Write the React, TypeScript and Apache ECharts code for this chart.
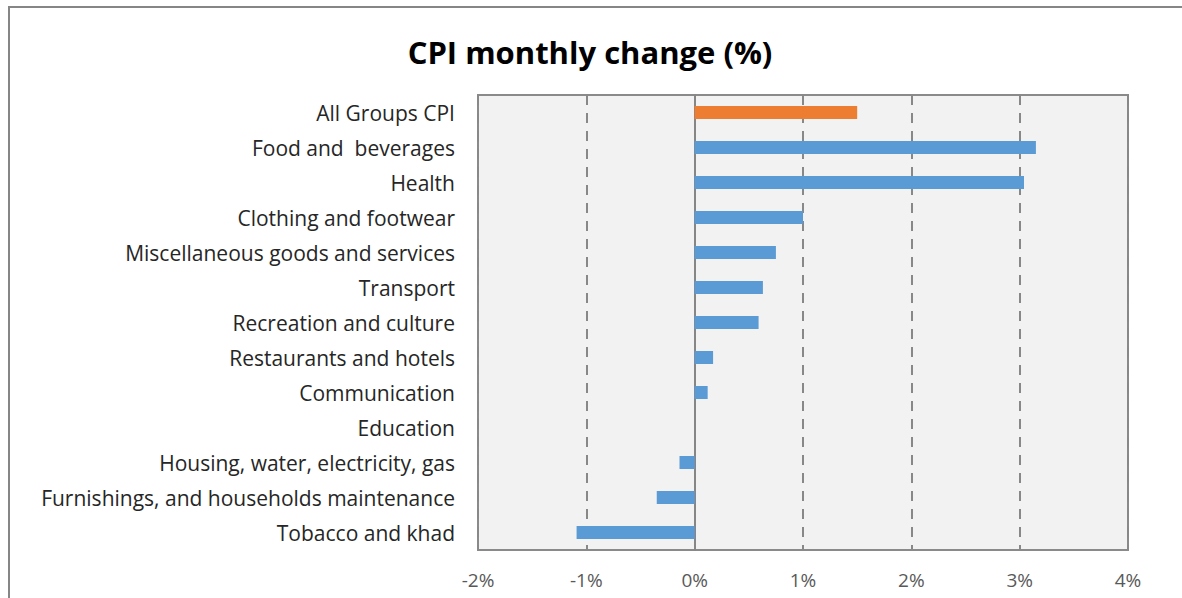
import React, { useEffect, useRef } from "react";
import * as echarts from "echarts";

const categories = [
  "All Groups CPI",
  "Food and  beverages",
  "Health",
  "Clothing and footwear",
  "Miscellaneous goods and services",
  "Transport",
  "Recreation and culture",
  "Restaurants and hotels",
  "Communication",
  "Education",
  "Housing, water, electricity, gas",
  "Furnishings, and households maintenance",
  "Tobacco and khad",
];

const values = [1.5, 3.15, 3.04, 1.0, 0.75, 0.63, 0.59, 0.17, 0.12, 0, -0.14, -0.35, -1.09];

const highlightIndex = 0;
const xTicks = { min: -2, max: 4, interval: 1 };

export default function App() {
  const ref = useRef<HTMLDivElement>(null);

  useEffect(() => {
    if (!ref.current) return;
    const chart = echarts.init(ref.current, undefined, { renderer: "svg" });
    chart.setOption({
      animation: false,
      backgroundColor: "#ffffff",
      title: {
        text: "CPI monthly change (%)",
        left: 585,
        top: 31,
        textAlign: "center",
        textStyle: {
          fontFamily: "Open Sans",
          fontWeight: "bold",
          fontSize: 31,
          color: "#000000",
        },
      },
      graphic: [
        {
          type: "rect",
          shape: { x: 9, y: 7, width: 1300, height: 700 },
          style: { fill: "none", stroke: "#868686", lineWidth: 2 },
          silent: true,
          z: 100,
        },
      ],
      grid: {
        left: 478,
        right: 54,
        top: 95,
        bottom: 48,
        show: true,
        backgroundColor: "#f2f2f2",
        borderColor: "#8a8a8a",
        borderWidth: 2,
      },
      xAxis: {
        type: "value",
        min: xTicks.min,
        max: xTicks.max,
        interval: xTicks.interval,
        axisLine: { show: false },
        axisTick: { show: false },
        axisLabel: {
          formatter: "{value}%",
          color: "#595959",
          fontFamily: "Open Sans",
          fontSize: 19,
          margin: 20,
        },
        splitLine: {
          show: true,
          lineStyle: { color: "#888888", width: 2, type: [10, 8] },
        },
      },
      yAxis: {
        type: "category",
        data: categories,
        inverse: true,
        axisLine: { show: true, onZero: true, lineStyle: { color: "#868686", width: 2 } },
        axisTick: { show: false },
        axisLabel: {
          color: "#262626",
          fontFamily: "Open Sans",
          fontSize: 21,
          margin: 23,
        },
        splitLine: { show: false },
      },
      series: [
        {
          type: "bar",
          barWidth: 13,
          data: values.map((v, i) => ({
            value: v,
            itemStyle: { color: i === highlightIndex ? "#ed7d31" : "#5b9bd5" },
          })),
          z: 3,
        },
      ],
    });
    return () => chart.dispose();
  }, []);

  return <div ref={ref} style={{ width: 1182, height: 598, position: "absolute", left: 0, top: 0 }} />;
}
